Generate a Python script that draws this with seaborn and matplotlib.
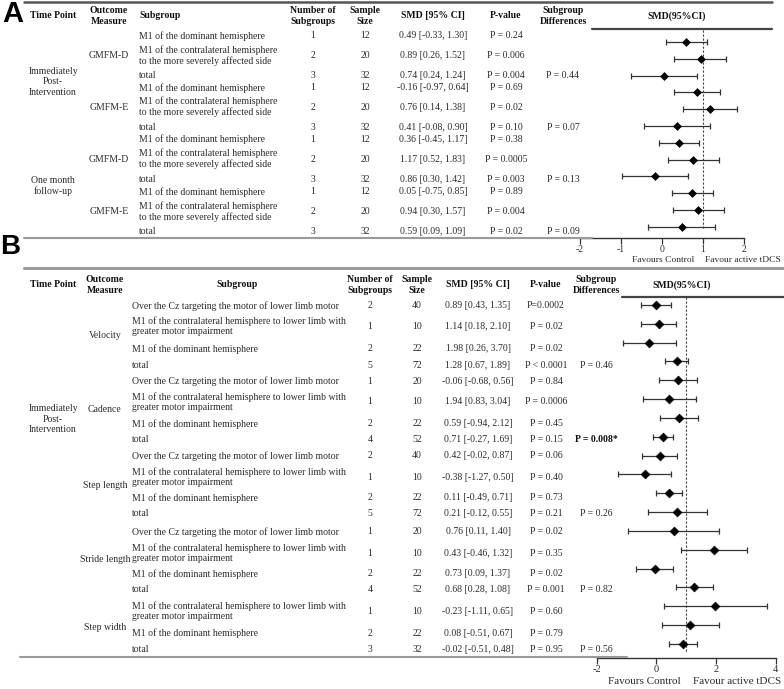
import matplotlib.pyplot as plt
import numpy as np
import pandas as pd
import seaborn as sns
from matplotlib.lines import Line2D

W, H = 784, 689

# ---------------- panel A data ----------------
a_header = ["Time Point", "Outcome\nMeasure", "Subgroup", "Number of\nSubgroups",
            "Sample\nSize", "SMD [95% CI]", "P-value", "Subgroup\nDifferences", "SMD(95%CI)"]
a_timepoints = ["Immediately\nPost-\nIntervention", "One month\nfollow-up"]
a_outcomes = ["GMFM-D", "GMFM-E", "GMFM-D", "GMFM-E"]
a_subgroups = [
    "M1 of the dominant hemisphere",
    "M1 of the contralateral hemisphere\nto the more severely affected side",
    "total",
] * 4
a_n_subgroups = [1, 2, 3, 1, 2, 3, 1, 2, 3, 1, 2, 3]
a_sample = [12, 20, 32, 12, 20, 32, 12, 20, 32, 12, 20, 32]
a_smd = [0.49, 0.89, 0.74, -0.16, 0.76, 0.41, 0.36, 1.17, 0.86, 0.05, 0.94, 0.59]
a_lo = [-0.33, 0.26, 0.24, -0.97, 0.14, -0.08, -0.45, 0.52, 0.30, -0.75, 0.30, 0.09]
a_hi = [1.30, 1.52, 1.24, 0.64, 1.38, 0.90, 1.17, 1.83, 1.42, 0.85, 1.57, 1.09]
a_p = ["P = 0.24", "P = 0.006", "P = 0.004", "P = 0.69", "P = 0.02", "P = 0.10",
       "P = 0.38", "P = 0.0005", "P = 0.003", "P = 0.89", "P = 0.004", "P = 0.02"]
a_diff = ["", "", "P = 0.44", "", "", "P = 0.07", "", "", "P = 0.13", "", "", "P = 0.09"]
a_ticks = [-2, -1, 0, 1, 2]

# ---------------- panel B data ----------------
b_timepoints = ["Immediately\nPost-\nIntervention"]
b_outcomes = ["Velocity", "Cadence", "Step length", "Stride length", "Step width"]
cz = "Over the Cz targeting the motor of lower limb motor"
m1c = "M1 of the contralateral hemisphere to lower limb with\ngreater motor impairment"
m1d = "M1 of the dominant hemisphere"
b_subgroups = [cz, m1c, m1d, "total"] * 4 + [m1c, m1d, "total"]
b_n_subgroups = [2, 1, 2, 5, 1, 1, 2, 4, 2, 1, 2, 5, 1, 1, 2, 4, 1, 2, 3]
b_sample = [40, 10, 22, 72, 20, 10, 22, 52, 40, 10, 22, 72, 20, 10, 22, 52, 10, 22, 32]
b_smd = [0.89, 1.14, 1.98, 1.28, -0.06, 1.94, 0.59, 0.71, 0.42, -0.38,
         0.11, 0.21, 0.76, 0.43, 0.73, 0.68, -0.23, 0.08, -0.02]
b_lo = [0.43, 0.18, 0.26, 0.67, -0.68, 0.83, -0.94, -0.27, -0.02, -1.27,
        -0.49, -0.12, 0.11, -0.46, 0.09, 0.28, -1.11, -0.51, -0.51]
b_hi = [1.35, 2.10, 3.70, 1.89, 0.56, 3.04, 2.12, 1.69, 0.87, 0.50,
        0.71, 0.55, 1.40, 1.32, 1.37, 1.08, 0.65, 0.67, 0.48]
b_p = ["P=0.0002", "P = 0.02", "P = 0.02", "P < 0.0001", "P = 0.84", "P = 0.0006",
       "P = 0.45", "P = 0.15", "P = 0.06", "P = 0.40", "P = 0.73", "P = 0.21",
       "P = 0.02", "P = 0.35", "P = 0.02", "P = 0.001", "P = 0.60", "P = 0.79", "P = 0.95"]
b_diff = ["", "", "", "P = 0.46", "", "", "", "P = 0.008*", "", "", "", "P = 0.26",
          "", "", "", "P = 0.82", "", "", "P = 0.56"]
b_ticks = [-2, 0, 2, 4]

# ---------------- layout (pixels from top-left) ----------------
a_row_y = [36, 56, 75, 88, 107, 127, 139, 159, 179, 192, 212, 231]
a_outcome_y = [56, 107, 159, 212]
a_time_y = [82, 186]
a_cols = dict(time=53, outcome=109, sub=139, n=313, size=365, smd=433, p=506, diff=563, forest=677)

b_row_y = [306, 326, 349, 365, 381, 402, 424, 439, 456, 477,
           498, 513, 532, 553, 574, 590, 611, 633, 649]
b_outcome_y = [335, 410, 485, 560, 627]
b_time_y = [419]
b_cols = dict(time=53, outcome=105, sub=132, n=370, size=417, smd=478, p=546, diff=596, forest=682)

sns.set_theme(style="white")
plt.rcParams["font.family"] = ["Liberation Serif", "DejaVu Serif"]

fig = plt.figure(figsize=(W / 100, H / 100), dpi=100)

BODY = "#2b2b2b"
FS = 7.0


def put(x, y, s, **kw):
    kw.setdefault("color", BODY)
    kw.setdefault("fontsize", FS)
    kw.setdefault("va", "center")
    fig.text(x / W, 1 - y / H, s, **kw)


def hline(x0, x1, y, lw, color):
    fig.add_artist(Line2D([x0 / W, x1 / W], [1 - y / H, 1 - y / H],
                          transform=fig.transFigure, lw=lw, color=color))


def draw_table(header_y, header, cols, rows_y, subgroups, n_sub, sample,
               smd, lo, hi, p, diff, outcomes, outcome_y, times, time_y,
               sub_header_ha):
    keys = ["time", "outcome", "sub", "n", "size", "smd", "p", "diff", "forest"]
    for key, label in zip(keys, header):
        ha = "center"
        x = cols[key]
        if key == "sub":
            ha = sub_header_ha[0]
            x = sub_header_ha[1]
        put(x, header_y, label, ha=ha, fontweight="bold", color="#111111",
            linespacing=1.3)
    for lab, y in zip(times, time_y):
        put(cols["time"], y, lab, ha="center", linespacing=1.25)
    for lab, y in zip(outcomes, outcome_y):
        put(cols["outcome"], y, lab, ha="center")
    for i, y in enumerate(rows_y):
        put(cols["sub"], y, subgroups[i], ha="left", linespacing=1.15)
        put(cols["n"], y, str(n_sub[i]), ha="center")
        put(cols["size"], y, str(sample[i]), ha="center")
        put(cols["smd"], y, f"{smd[i]:.2f} [{lo[i]:.2f}, {hi[i]:.2f}]", ha="center")
        put(cols["p"], y, p[i], ha="center")
        if diff[i]:
            bold = diff[i].endswith("*")
            put(cols["diff"], y, diff[i], ha="center",
                fontweight="bold" if bold else "normal",
                color="#111111" if bold else BODY)


def draw_forest(px_left, px_right, px_top, px_bottom, zero_px, unit_px,
                first_px, step_px, smd, lo, hi, ticks, dash_end_px,
                tick_fs, capsize, msize):
    ax = fig.add_axes([px_left / W, 1 - px_bottom / H,
                       (px_right - px_left) / W, (px_bottom - px_top) / H])
    ax.patch.set_alpha(0)
    # the picture draws the studies in reverse table order
    df = pd.DataFrame({
        "pos": np.arange(len(smd)),
        "smd": smd[::-1],
        "lo": lo[::-1],
        "hi": hi[::-1],
    })
    ax.errorbar(df["smd"], df["pos"],
                xerr=[df["smd"] - df["lo"], df["hi"] - df["smd"]],
                fmt="none", ecolor="#333333", elinewidth=0.9,
                capsize=capsize, capthick=0.9, zorder=2)
    sns.scatterplot(data=df, x="smd", y="pos", marker="D", s=msize,
                    color="black", edgecolor="black", linewidth=0.5,
                    ax=ax, zorder=3, legend=False)
    to_y = lambda px: (px - first_px) / step_px
    to_x = lambda px: (px - zero_px) / unit_px
    ax.vlines(1, to_y(px_top), to_y(dash_end_px), colors="#444444",
              linestyles=(0, (2, 1.6)), lw=0.8, zorder=1)
    ax.set_xlim(to_x(px_left), to_x(px_right))
    ax.set_ylim(to_y(px_bottom), to_y(px_top))
    for side in ["top", "right", "left"]:
        ax.spines[side].set_visible(False)
    ax.spines["bottom"].set_bounds(ticks[0], ticks[-1])
    ax.spines["bottom"].set_color("#333333")
    ax.spines["bottom"].set_linewidth(1.0)
    ax.set_yticks([])
    ax.set_xticks(ticks)
    ax.set_xticklabels([str(t) for t in ticks])
    ax.tick_params(axis="x", direction="out", length=4, width=0.9,
                   color="#333333", labelsize=tick_fs, labelcolor=BODY, pad=1.0,
                   bottom=True)
    ax.set_xlabel("")
    ax.set_ylabel("")
    return ax


# ---------------- panel A ----------------
fig.text(2 / W, 1 - 14 / H, "A", fontsize=21, fontweight="bold",
         family=["Liberation Sans", "DejaVu Sans"], va="center", ha="left", color="black")
hline(24, 772, 2, 1.8, "#555555")
hline(592, 772, 29, 1.6, "#444444")
hline(24, 592, 238, 1.5, "#9a9a9a")
draw_table(16, a_header, a_cols, a_row_y, a_subgroups, a_n_subgroups, a_sample,
           a_smd, a_lo, a_hi, a_p, a_diff, a_outcomes, a_outcome_y,
           a_timepoints, a_time_y, ("left", a_cols["sub"]))
draw_forest(572, 784, 30, 238, 662, 41, 42, 16.8, a_smd, a_lo, a_hi, a_ticks,
            230, 7.0, 1.9, 16)
put(694, 260, "Favours Control", ha="right", fontsize=6.8)
put(705, 260, "Favour active tDCS", ha="left", fontsize=6.8)

# ---------------- panel B ----------------
fig.text(0 / W, 1 - 247 / H, "B", fontsize=20, fontweight="bold",
         family=["Liberation Sans", "DejaVu Sans"], va="center", ha="left", color="black")
hline(24, 784, 268, 2.2, "#9a9a9a")
hline(622, 784, 297, 1.6, "#444444")
hline(20, 627, 657, 1.5, "#9a9a9a")
draw_table(285, a_header, b_cols, b_row_y, b_subgroups, b_n_subgroups, b_sample,
           b_smd, b_lo, b_hi, b_p, b_diff, b_outcomes, b_outcome_y,
           b_timepoints, b_time_y, ("center", 237))
draw_forest(588, 784, 297, 658, 656.3, 29.8, 305, 18.83, b_smd, b_lo, b_hi, b_ticks,
            653, 7.5, 2.4, 20)
put(681, 682, "Favours Control", ha="right", fontsize=8.0)
put(693, 682, "Favour active tDCS", ha="left", fontsize=8.0)

fig.savefig("out.png", dpi=100)
plt.close(fig)
